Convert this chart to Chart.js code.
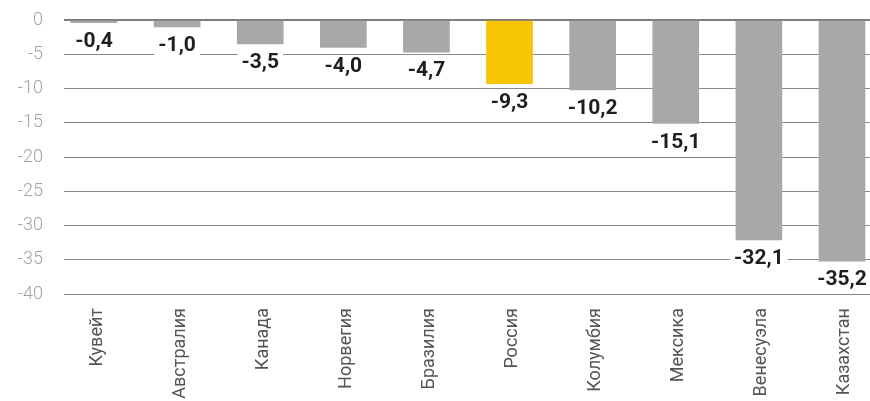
<!DOCTYPE html>
<html>
<head>
<meta charset="utf-8">
<script src="https://cdn.jsdelivr.net/npm/chart.js@4.4.1/dist/chart.umd.min.js"></script>
<style>
  html, body { margin: 0; padding: 0; background: #fff; overflow: hidden; }
  #wrap { width: 870px; height: 401px; }
</style>
</head>
<body>
<div id="wrap"><canvas id="grafico"></canvas></div>
<script>
// Datos del gráfico
const paises = ["Кувейт", "Австралия", "Канада", "Норвегия", "Бразилия", "Россия", "Колумбия", "Мексика", "Венесуэла", "Казахстан"];
const valores = [-0.4, -1.0, -3.5, -4.0, -4.7, -9.3, -10.2, -15.1, -32.1, -35.2];
const ticksY = [0, -5, -10, -15, -20, -25, -30, -35, -40];
const resaltado = "Россия";

const gris = "#a7a8aa";
const amarillo = "#f6c400";

// Etiquetas de valor debajo de cada barra, con fondo blanco
const etiquetasValor = {
  id: "etiquetasValor",
  afterDatasetsDraw(chart) {
    const ctx = chart.ctx;
    const meta = chart.getDatasetMeta(0);
    ctx.save();
    ctx.font = "bold 21px Roboto";
    ctx.textAlign = "center";
    ctx.textBaseline = "middle";
    meta.data.forEach((bar, i) => {
      const texto = valores[i].toFixed(1).replace(".", ",");
      const w = ctx.measureText(texto).width;
      const y = bar.y + 19;
      ctx.fillStyle = "#fff";
      ctx.fillRect(bar.x - w / 2 - 4, y - 10, w + 8, 20);
      ctx.fillStyle = "#1e1e1e";
      ctx.fillText(texto, bar.x, y);
    });
    ctx.restore();
  },
};

const ctx = document.getElementById("grafico").getContext("2d");
new Chart(ctx, {
  type: "bar",
  data: {
    datasets: [
      {
        data: valores.map((v, i) => ({ x: i, y: v })),
        backgroundColor: paises.map((p) => (p === resaltado ? amarillo : gris)),
        barThickness: 46,
        borderWidth: 0,
      },
    ],
  },
  options: {
    responsive: true,
    maintainAspectRatio: false,
    animation: false,
    layout: { padding: { top: 20, right: 0, left: 0, bottom: 0 } },
    plugins: {
      legend: { display: false },
      tooltip: { enabled: false },
    },
    scales: {
      x: {
        type: "linear",
        offset: false,
        min: -0.361,
        max: 9.337,
        grid: { display: false },
        border: { display: false },
        afterBuildTicks: (axis) => {
          axis.ticks = paises.map((p, i) => ({ value: i }));
        },
        afterFit: (axis) => {
          axis.height = 107;
          axis.paddingLeft = 0;
          axis.paddingRight = 0;
        },
        ticks: {
          minRotation: 90,
          maxRotation: 90,
          padding: 6,
          labelOffset: 3,
          color: "#555",
          font: { family: "Roboto", size: 18 },
          callback: (v) => paises[v],
        },
      },
      y: {
        min: -40,
        max: 0,
        afterBuildTicks: (axis) => {
          axis.ticks = ticksY.map((v) => ({ value: v }));
        },
        afterFit: (axis) => {
          axis.width = 64;
          axis.paddingTop = 0;
          axis.paddingBottom = 0;
        },
        border: { display: false },
        grid: {
          drawTicks: false,
          color: (c) => (c.tick && c.tick.value === 0 ? "#7d7d7d" : "#8a8a8a"),
          lineWidth: (c) => (c.tick && c.tick.value === 0 ? 2 : 1),
        },
        ticks: {
          padding: 21,
          color: "#a3a3a3",
          font: { family: "Roboto", size: 18, weight: 300 },
        },
      },
    },
  },
  plugins: [etiquetasValor],
});
</script>
</body>
</html>
